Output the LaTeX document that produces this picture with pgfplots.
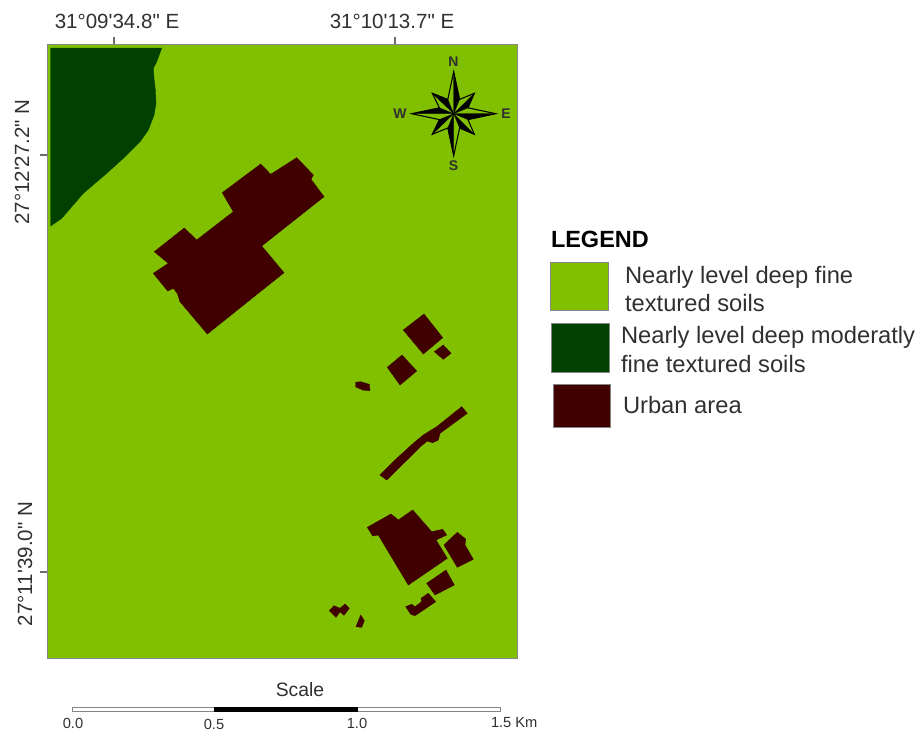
\documentclass[border=0pt]{standalone}
\usepackage{fontspec}
\setmainfont[Ligatures=TeXOff]{Liberation Sans}
\usepackage{pgfplots}
\pgfplotsset{compat=1.18}
\definecolor{lg}{HTML}{80C000}
\definecolor{dg}{HTML}{004000}
\definecolor{ur}{HTML}{400000}
\definecolor{fr}{HTML}{858585}
\definecolor{tx}{HTML}{303030}
\pgfplotsset{
  shp/.style={fill=#1,draw=#1,line width=0.3pt,mark=none,forget plot},
  box/.style={fill=#1,draw=fr,line width=0.6pt,mark=none,forget plot},
  tk/.style={draw=fr!80!black,line width=0.8pt,mark=none,forget plot},
  bk/.style={fill=black,draw=black,line width=0.2pt,mark=none,forget plot}
}
\begin{document}
\begin{tikzpicture}[inner sep=0pt,outer sep=0pt]
\begin{axis}[
  scale only axis,width=690.75pt,height=549.75pt,
  xmin=0,xmax=921,ymin=0,ymax=733,y dir=reverse,
  axis lines=none,clip=false
]
\path (axis cs:0,0) rectangle (axis cs:921,733);
% map frame
\addplot[box=lg] coordinates {(47,44)(517,44)(517,658)(47,658)} -- cycle;
% ticks
\addplot[tk] coordinates {(114,37)(114,44)};
\addplot[tk] coordinates {(395,37)(395,44)};
\addplot[tk] coordinates {(40,155)(47,155)};
\addplot[tk] coordinates {(40,572)(47,572)};
% dark soil
\addplot[shp=dg] coordinates {(50.7,48)(161.7,48)(156.7,61.7)(153.3,68.3)(154,78.3)(155.3,90)(156,103.3)(154,115)(148.3,130)(140,141.7)(123.3,158.3)(106.7,173.3)(83.3,193.3)(71.7,206.7)(61.7,218.3)(50.7,226)} -- cycle;
% urban
\addplot[shp=ur] coordinates {(296.7,157.7)(313.3,175)(311,179.3)(324,196.7)(261.7,246)(284,272.7)(207.3,334)(180,301.7)(177.3,293.3)(173.3,288.3)(167.7,291)(153.3,273.3)(168.3,263.3)(154.3,251.7)(184.3,228)(196.7,240)(233.3,211.7)(222.3,192.7)(260.7,164)(270.7,174.3)} -- cycle;
\addplot[shp=ur] coordinates {(424,314)(442.7,337.7)(423.3,354)(403.3,330)} -- cycle;
\addplot[shp=ur] coordinates {(443.3,345)(451,353.3)(443.3,359.3)(434.3,351.7)} -- cycle;
\addplot[shp=ur] coordinates {(402,355)(416.7,371)(400,385)(387.3,367.3)} -- cycle;
\addplot[shp=ur] coordinates {(355.5,382.3)(360.7,381.7)(369.3,384.3)(370,390.7)(362.7,390)(355.5,386.7)} -- cycle;
\addplot[shp=ur] coordinates {(380,475)(395,460)(413.3,443.3)(423.3,435)(436.7,426.7)(461.7,406.7)(467.3,413.3)(440,433.3)(438.3,440)(432.7,442.7)(427.3,441)(420,447)(409,458)(386.7,480)} -- cycle;
\addplot[shp=ur] coordinates {(367.3,527.3)(391,514)(398.3,520)(412.7,510)(431.7,531.7)(442.7,529.3)(446.7,535)(436,540)(447.3,558.3)(408.3,585)(378.3,535)(372.7,536)} -- cycle;
\addplot[shp=ur] coordinates {(444,545)(457.3,532.3)(465.7,539)(465,545)(473.3,559.3)(457.3,567.3)} -- cycle;
\addplot[shp=ur] coordinates {(426.7,583.3)(446,570)(454.3,585)(435,595)} -- cycle;
\addplot[shp=ur] coordinates {(405.7,606.7)(411.7,604.3)(415,606.7)(421.7,601.7)(421,598.3)(428.3,593.3)(435.7,601.7)(415,615.7)(410.7,614.3)} -- cycle;
\addplot[shp=ur] coordinates {(329.3,610.7)(334,605.7)(340,608.3)(345,604)(349.3,608.3)(344,615.3)(340,611.7)(336,617.3)} -- cycle;
\addplot[shp=ur] coordinates {(360.7,615)(364.3,620.7)(361.7,627.3)(356,626.7)} -- cycle;
% compass
\addplot[draw=black,line width=0.8pt,mark=none,forget plot] coordinates {(453.7,71.7)(459.6,99.4)(474.3,93.3)(468,107.8)(495.7,113.7)(468,119.6)(474.3,134.3)(459.6,128)(453.7,155.7)(447.8,128)(432.3,134.3)(439.4,119.6)(411.7,113.7)(439.4,107.8)(432.3,93.3)(447.8,99.4)} -- cycle;
\addplot[bk] coordinates {(453.7,113.7)(453.7,71.7)(459.6,99.4)} -- cycle;
\addplot[bk] coordinates {(453.7,113.7)(474.3,93.3)(468,107.8)} -- cycle;
\addplot[bk] coordinates {(453.7,113.7)(495.7,113.7)(468,119.6)} -- cycle;
\addplot[bk] coordinates {(453.7,113.7)(474.3,134.3)(459.6,128)} -- cycle;
\addplot[bk] coordinates {(453.7,113.7)(453.7,155.7)(447.8,128)} -- cycle;
\addplot[bk] coordinates {(453.7,113.7)(432.3,134.3)(439.4,119.6)} -- cycle;
\addplot[bk] coordinates {(453.7,113.7)(411.7,113.7)(439.4,107.8)} -- cycle;
\addplot[bk] coordinates {(453.7,113.7)(432.3,93.3)(447.8,99.4)} -- cycle;
\node[font=\fontsize{10.5pt}{12pt}\selectfont\bfseries,text=tx] at (axis cs:453.5,61.5) {N};
\node[font=\fontsize{10.5pt}{12pt}\selectfont\bfseries,text=tx] at (axis cs:453.5,166) {S};
\node[font=\fontsize{10.5pt}{12pt}\selectfont\bfseries,text=tx] at (axis cs:400,114) {W};
\node[font=\fontsize{10.5pt}{12pt}\selectfont\bfseries,text=tx] at (axis cs:506,114) {E};
% coordinate labels
\node[font=\fontsize{15.4pt}{18pt}\selectfont,text=tx] at (axis cs:117,21) {31°09'34.8" E};
\node[font=\fontsize{15.4pt}{18pt}\selectfont,text=tx] at (axis cs:392,21) {31°10'13.7" E};
\node[font=\fontsize{15.4pt}{18pt}\selectfont,text=tx,rotate=90] at (axis cs:22,162) {27°12'27.2" N};
\node[font=\fontsize{15.4pt}{18pt}\selectfont,text=tx,rotate=90] at (axis cs:25,564) {27°11'39.0" N};
% legend
\node[font=\fontsize{17.6pt}{21pt}\selectfont\bfseries,text=black,anchor=west] at (axis cs:551,239) {LEGEND};
\addplot[box=lg] coordinates {(550,262)(608,262)(608,310)(550,310)} -- cycle;
\addplot[box=dg] coordinates {(551,323.5)(609,323.5)(609,372)(551,372)} -- cycle;
\addplot[box=ur] coordinates {(553,384)(610,384)(610,427)(553,427)} -- cycle;
\node[font=\fontsize{17.8pt}{21pt}\selectfont,text=tx,anchor=west] at (axis cs:625,277) {Nearly level deep fine};
\node[font=\fontsize{17.8pt}{21pt}\selectfont,text=tx,anchor=west] at (axis cs:625,303) {textured soils};
\node[font=\fontsize{17.8pt}{21pt}\selectfont,text=tx,anchor=west] at (axis cs:621,337) {Nearly level deep moderatly};
\node[font=\fontsize{17.8pt}{21pt}\selectfont,text=tx,anchor=west] at (axis cs:621,364) {fine textured soils};
\node[font=\fontsize{17.8pt}{21pt}\selectfont,text=tx,anchor=west] at (axis cs:623,405) {Urban area};
% scale bar
\addplot[fill=white,draw=fr,line width=0.6pt,mark=none,forget plot] coordinates {(72,707)(500,707)(500,711.5)(72,711.5)} -- cycle;
\addplot[bk] coordinates {(214,707)(357,707)(357,711.5)(214,711.5)} -- cycle;
\node[font=\fontsize{14.5pt}{17pt}\selectfont,text=tx] at (axis cs:300,689.5) {Scale};
\node[font=\fontsize{11pt}{13pt}\selectfont,text=tx] at (axis cs:73,723) {0.0};
\node[font=\fontsize{11pt}{13pt}\selectfont,text=tx] at (axis cs:214,724) {0.5};
\node[font=\fontsize{11pt}{13pt}\selectfont,text=tx] at (axis cs:357,723) {1.0};
\node[font=\fontsize{11pt}{13pt}\selectfont,text=tx,anchor=west] at (axis cs:491,723) {1.5 Km};
\end{axis}
\end{tikzpicture}
\end{document}
